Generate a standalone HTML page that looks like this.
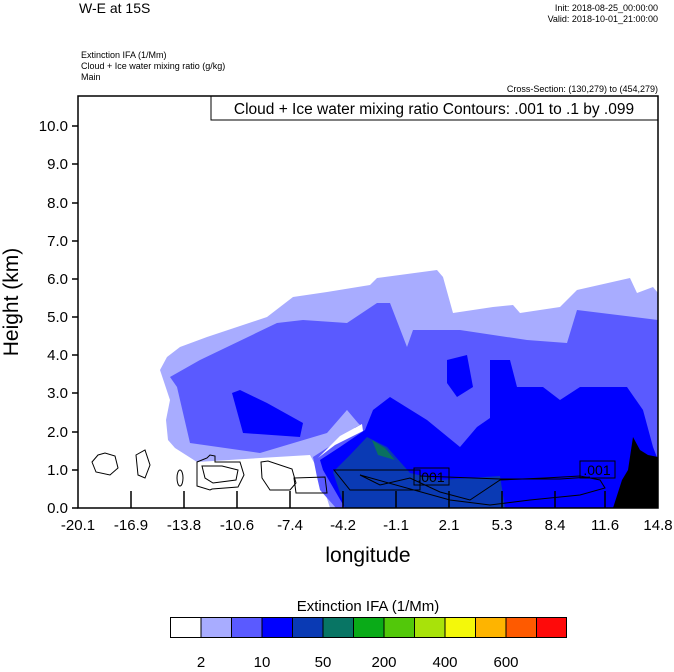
<!DOCTYPE html>
<html><head><style>
body{margin:0;background:#fff;}
</style></head><body>
<svg width="674" height="667" xmlns="http://www.w3.org/2000/svg" font-family="Liberation Sans, sans-serif">
<rect width="674" height="667" fill="#fff"/>
<text x="79" y="13" font-size="14">W-E at 15S</text>
<text x="658" y="11" font-size="9" text-anchor="end">Init: 2018-08-25_00:00:00</text>
<text x="658" y="22" font-size="9" text-anchor="end">Valid: 2018-10-01_21:00:00</text>
<text x="81" y="58" font-size="9">Extinction IFA   (1/Mm)</text>
<text x="81" y="69" font-size="9">Cloud + Ice water mixing ratio   (g/kg)</text>
<text x="81" y="80" font-size="9">Main</text>
<text x="658" y="92" font-size="9" text-anchor="end">Cross-Section: (130,279) to (454,279)</text>
<!-- light layer -->
<path fill="#a8acff" d="M160,370 L167,357 L180,347 L207,337 L237,327 L267,317 L293,297 L327,292 L370,285 L377,278 L437,270 L443,277 L453,313 L493,307 L513,305 L520,313 L560,307 L577,290 L630,278 L637,293 L653,287 L658,293 L658,508 L330,508 L318,470 L310,455 L260,458 L197,462 L175,448 L168,440 L166,420 L170,400 Z"/>
<!-- medium -->
<path fill="#5a5aff" d="M170,377 L200,360 L277,323 L303,320 L347,323 L377,303 L390,303 L407,347 L413,330 L460,330 L527,340 L567,343 L577,310 L658,320 L658,508 L336,508 L320,490 L317,477 L313,457 L327,448 L350,435 L355,428 L347,410 L327,433 L260,453 L190,443 L177,387 Z"/>
<path fill="#a8acff" d="M347,410 L358,423 L360,425 L330,440 L313,452 L327,440 Z"/>
<path fill="#ffffff" d="M340,436 L362,424 L363,431 L335,445 L318,458 Z"/>
<!-- blue -->
<path fill="#0000ff" d="M232,393 L240,390 L267,403 L303,423 L300,437 L243,433 Z"/>
<path fill="#0000ff" d="M447,360 L467,355 L473,387 L457,397 L447,383 Z"/>
<path fill="#0000ff" d="M323,470 L320,460 L340,447 L365,430 L373,410 L390,397 L427,420 L460,447 L477,427 L490,418 L490,360 L510,360 L517,387 L543,387 L560,400 L580,387 L627,387 L643,410 L653,447 L658,460 L658,508 L345,508 Z"/>
<!-- dark blue -->
<path fill="#0a3ab4" d="M345,508 L333,472 L350,455 L367,437 L387,447 L410,473 L440,480 L500,476 L505,508 Z"/>
<path fill="#0a7060" d="M372,440 L385,448 L395,460 L378,455 Z"/>
<!-- terrain -->
<path fill="#000" d="M613,508 L622,480 L628,470 L633,437 L640,450 L648,455 L658,457 L658,508 Z"/>
<!-- contours -->
<g fill="none" stroke="#000" stroke-width="1">
<ellipse cx="180" cy="478" rx="3" ry="8"/>
<path d="M197,462 L207,458 L210,455 L215,456 L215,462 L240,462 L244,475 L238,487 L212,489 L210,490 L197,486 Z"/>
<path d="M202,466 L222,466 L238,470 L236,480 L213,483 L205,478 Z"/>
<path d="M261,462 L268,461 L292,469 L296,483 L290,490 L270,490 L262,478 Z"/>
<path d="M294,478 L325,477 L327,493 L296,493 Z"/>
<path d="M334,470 L400,470 L420,470 L420,490 L350,490 Z"/>
<path d="M360,475 L380,485 L410,478 L440,492 L470,500 L500,480 L545,478 L580,476 L600,480 L605,488 L580,495 L530,500 L490,505 L450,500 Z"/>
<path d="M420,476 L500,479 L560,479 L590,477"/>
<path d="M98,455 L105,453 L115,456 L118,468 L110,475 L96,472 L92,462 Z"/>
<path d="M136,455 L145,450 L150,465 L145,478 L138,475 Z"/>
</g>
<rect x="414" y="468" width="35" height="17" fill="none" stroke="#000"/>
<text x="431" y="482" font-size="14" text-anchor="middle">.001</text>
<rect x="580" y="461" width="35" height="17" fill="none" stroke="#000"/>
<text x="597" y="475" font-size="14" text-anchor="middle">.001</text>
<!-- title box -->
<rect x="211" y="96" width="447" height="24" fill="#fff" stroke="#000"/>
<text x="434" y="114" font-size="15.5" text-anchor="middle">Cloud + Ice water mixing ratio Contours: .001 to .1 by .099</text>
<!-- frame -->
<rect x="78" y="96" width="580" height="412" fill="none" stroke="#000" stroke-width="1.5"/>
<g stroke="#000" stroke-width="1.5">
<line x1="72" y1="508" x2="78" y2="508"/><line x1="72" y1="470" x2="78" y2="470"/><line x1="72" y1="432" x2="78" y2="432"/><line x1="72" y1="393" x2="78" y2="393"/><line x1="72" y1="355" x2="78" y2="355"/><line x1="72" y1="317" x2="78" y2="317"/><line x1="72" y1="279" x2="78" y2="279"/><line x1="72" y1="241" x2="78" y2="241"/><line x1="72" y1="203" x2="78" y2="203"/><line x1="72" y1="164" x2="78" y2="164"/><line x1="72" y1="126" x2="78" y2="126"/>
<line x1="131" y1="508" x2="131" y2="491"/><line x1="184" y1="508" x2="184" y2="491"/><line x1="237" y1="508" x2="237" y2="491"/><line x1="290" y1="508" x2="290" y2="491"/><line x1="343" y1="508" x2="343" y2="491"/><line x1="396" y1="508" x2="396" y2="491"/><line x1="449" y1="508" x2="449" y2="491"/><line x1="502" y1="508" x2="502" y2="491"/><line x1="555" y1="508" x2="555" y2="491"/><line x1="605" y1="508" x2="605" y2="491"/>
</g>
<g font-size="15" text-anchor="end">
<text x="68" y="513">0.0</text><text x="68" y="475">1.0</text><text x="68" y="437">2.0</text><text x="68" y="398">3.0</text><text x="68" y="360">4.0</text><text x="68" y="322">5.0</text><text x="68" y="284">6.0</text><text x="68" y="246">7.0</text><text x="68" y="208">8.0</text><text x="68" y="169">9.0</text><text x="68" y="131">10.0</text>
</g>
<g font-size="15" text-anchor="middle">
<text x="78" y="530">-20.1</text><text x="131" y="530">-16.9</text><text x="184" y="530">-13.8</text><text x="237" y="530">-10.6</text><text x="290" y="530">-7.4</text><text x="343" y="530">-4.2</text><text x="396" y="530">-1.1</text><text x="449" y="530">2.1</text><text x="502" y="530">5.3</text><text x="555" y="530">8.4</text><text x="605" y="530">11.6</text><text x="658" y="530">14.8</text>
</g>
<text x="368" y="562" font-size="21" text-anchor="middle">longitude</text>
<text transform="translate(18,302) rotate(-90)" font-size="21" text-anchor="middle">Height (km)</text>
<text x="368" y="611" font-size="15" text-anchor="middle">Extinction IFA  (1/Mm)</text>
<g stroke="#000" stroke-width="1">
<rect x="170.5" y="617.5" width="30.5" height="20" fill="#fff"/>
<rect x="201" y="617.5" width="30.5" height="20" fill="#a8acff"/>
<rect x="231.5" y="617.5" width="30.5" height="20" fill="#5a5aff"/>
<rect x="262" y="617.5" width="30.5" height="20" fill="#0000ff"/>
<rect x="292.5" y="617.5" width="30.5" height="20" fill="#0a3ab4"/>
<rect x="323" y="617.5" width="30.5" height="20" fill="#087564"/>
<rect x="353.5" y="617.5" width="30.5" height="20" fill="#0aab18"/>
<rect x="384" y="617.5" width="30.5" height="20" fill="#52c80a"/>
<rect x="414.5" y="617.5" width="30.5" height="20" fill="#a8e20a"/>
<rect x="445" y="617.5" width="30.5" height="20" fill="#f4f80a"/>
<rect x="475.5" y="617.5" width="30.5" height="20" fill="#feb400"/>
<rect x="506" y="617.5" width="30.5" height="20" fill="#fe5a00"/>
<rect x="536.5" y="617.5" width="30" height="20" fill="#fe0a0a"/>
</g>
<g font-size="15" text-anchor="middle">
<text x="201" y="667">2</text><text x="262" y="667">10</text><text x="323" y="667">50</text><text x="384" y="667">200</text><text x="445" y="667">400</text><text x="506" y="667">600</text>
</g>
</svg>
</body></html>
